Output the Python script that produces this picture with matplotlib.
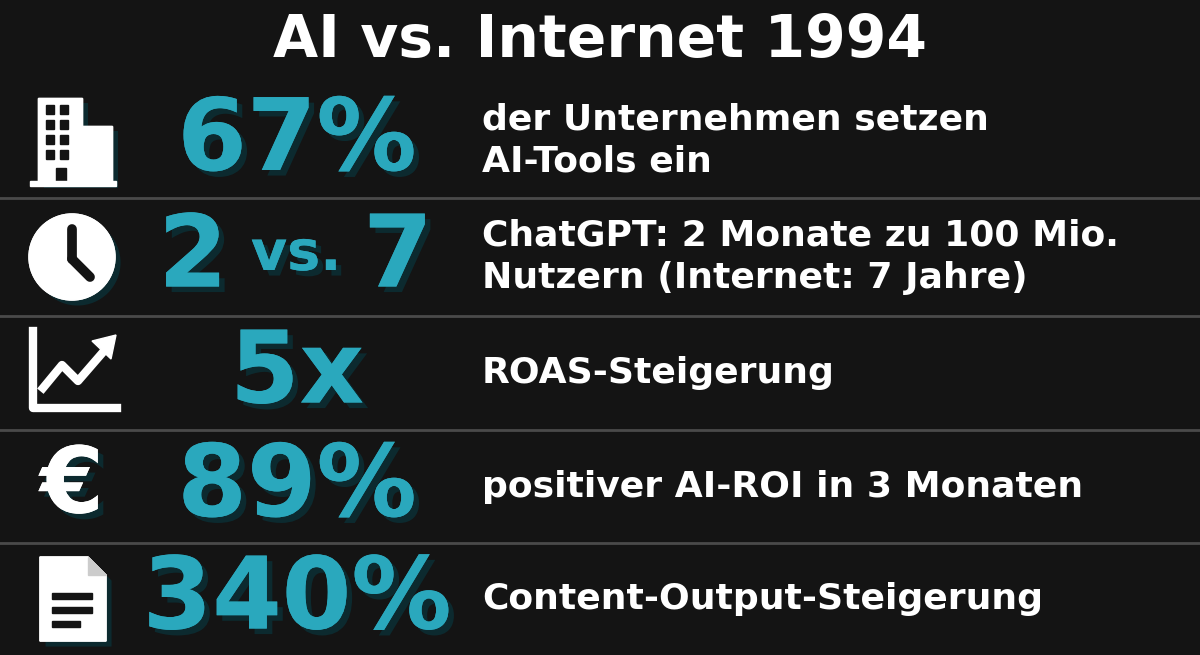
import matplotlib
matplotlib.use("Agg")
import matplotlib.pyplot as plt
import matplotlib.patheffects as pe
from matplotlib.patches import Rectangle, Circle, Polygon

TITLE = "AI vs. Internet 1994"
BIG_VALUES = ["67%", None, "5x", "89%", "340%"]
DESCRIPTIONS = [
    "der Unternehmen setzen\nAI-Tools ein",
    "ChatGPT: 2 Monate zu 100 Mio.\nNutzern (Internet: 7 Jahre)",
    "ROAS-Steigerung",
    "positiver AI-ROI in 3 Monaten",
    "Content-Output-Steigerung",
]
VS_LEFT, VS_RIGHT = "2", "7"

BG = "#141414"
TEAL = "#2aa8bd"
SHADOW = "#0c2a2f"
LINE = "#4a4a4a"
FONT = ["DejaVu Sans"]

ROW_EDGES = [83, 198, 316, 430, 543, 655]

fig = plt.figure(figsize=(12, 6.55), dpi=100, facecolor=BG)
ax = fig.add_axes([0, 0, 1, 1])
ax.set_xlim(0, 1200)
ax.set_ylim(655, 0)
ax.axis("off")

shadow = [pe.withSimplePatchShadow(offset=(4, -4), shadow_rgbFace=SHADOW, alpha=1), pe.Normal()]
big = dict(color=TEAL, fontweight="bold", fontstyle="normal", family=FONT,
           ha="center", va="center", path_effects=shadow)

ax.text(600, 40, TITLE, color="white", fontsize=42, fontweight="bold",
        family=FONT, ha="center", va="center")

for y in ROW_EDGES[1:-1]:
    ax.plot([0, 1200], [y, y], color=LINE, lw=2)

centers = [(a + b) / 2 for a, b in zip(ROW_EDGES[:-1], ROW_EDGES[1:])]

for yc, val, desc in zip(centers, BIG_VALUES, DESCRIPTIONS):
    if val is not None:
        ax.text(297, yc + 2, val, fontsize=72, **big)
    else:
        ax.text(193, yc + 2, VS_LEFT, fontsize=72, **big)
        ax.text(296, yc - 2, "vs.", fontsize=40, **big)
        ax.text(398, yc + 2, VS_RIGHT, fontsize=72, **big)
    ax.text(482, yc, desc, color="white", fontsize=26, fontweight="bold",
            family=FONT, ha="left", va="center", linespacing=1.3)


def add(p):
    p.set_path_effects(shadow)
    ax.add_patch(p)


# building
yc = centers[0]
add(Rectangle((38, yc - 43), 44, 85, color="white"))
add(Rectangle((82, yc - 15), 30, 57, color="white"))
for cx in (46, 60):
    for cy in range(int(yc - 35), int(yc + 20), 15):
        ax.add_patch(Rectangle((cx, cy), 8, 9, color=BG))
ax.add_patch(Rectangle((56, yc + 27), 10, 15, color=BG))
ax.add_patch(Rectangle((30, yc + 40), 86, 5, color="white"))

# clock
yc = centers[1]
add(Circle((72, yc), 43, color="white"))
ax.plot([72, 72], [yc - 28, yc + 2], color=BG, lw=7, solid_capstyle="round")
ax.plot([72, 90], [yc + 2, yc + 20], color=BG, lw=7, solid_capstyle="round")

# chart
yc = centers[2]
ax.plot([33, 33, 117], [yc - 42, yc + 35, yc + 35], color="white", lw=6)
ax.plot([43, 62, 78, 104], [yc + 15, yc - 8, yc + 8, yc - 22], color="white", lw=6)
ax.add_patch(Polygon([[92, yc - 32], [116, yc - 38], [111, yc - 14]], color="white"))

# euro
yc = centers[3]
ax.text(72, yc, "€", color="white", fontsize=66, fontweight="bold", fontstyle="normal",
        family=FONT, ha="center", va="center", path_effects=shadow)

# document
yc = centers[4]
add(Polygon([[40, yc - 42], [88, yc - 42], [106, yc - 24], [106, yc + 42], [40, yc + 42]],
            color="white"))
ax.add_patch(Polygon([[88, yc - 42], [88, yc - 24], [106, yc - 24]], color="#cccccc"))
for k, w in enumerate([40, 40, 28]):
    ax.add_patch(Rectangle((52, yc - 6 + k * 14), w, 6, color=BG))

fig.savefig("out.png", dpi=100, facecolor=BG)
